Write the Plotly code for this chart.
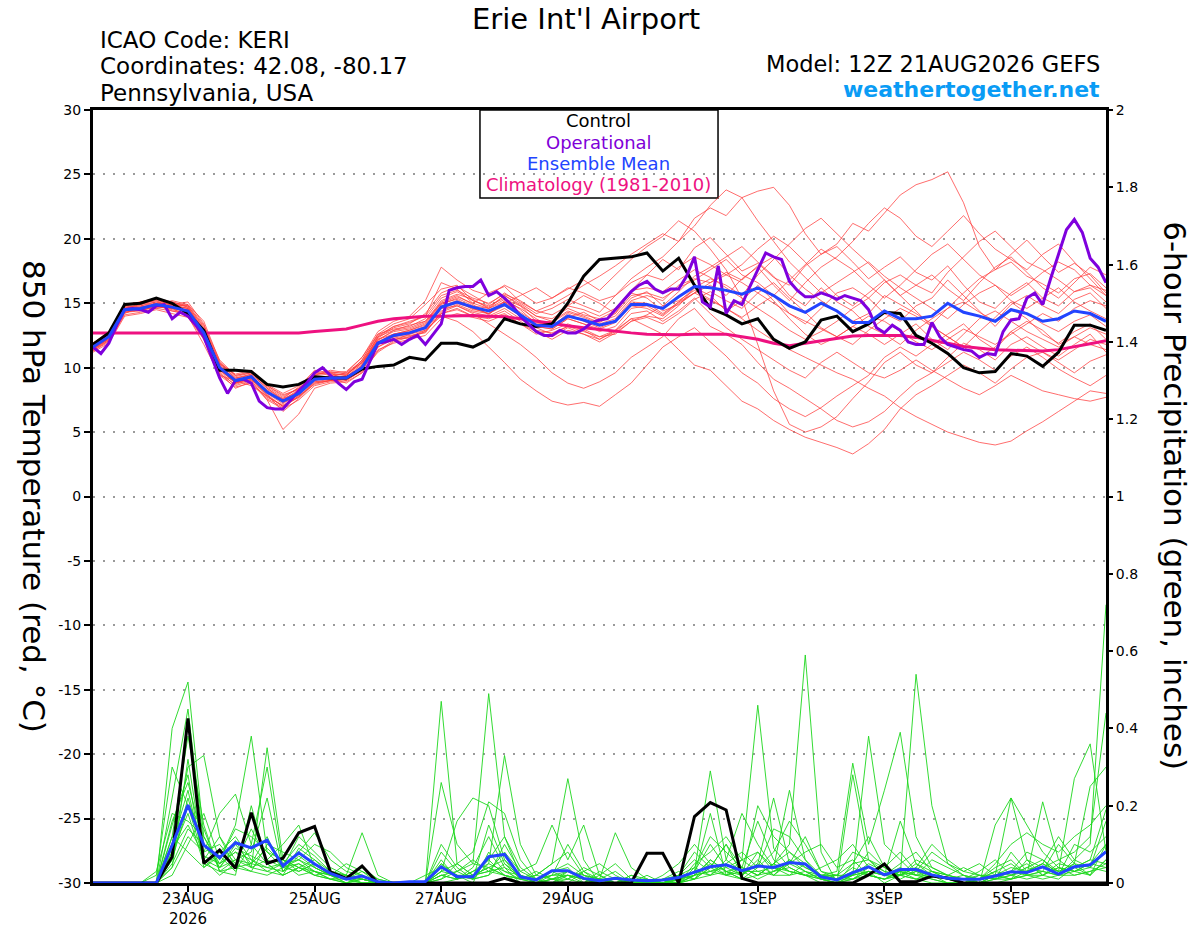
import pandas as pd
import plotly.graph_objects as go

# GEFS run start, 6-hourly ensemble output, 3-hourly operational
start = "2026-08-21 12:00"
times = pd.date_range(start, periods=65, freq="6h")
op_times = pd.date_range(start, periods=129, freq="3h")

tick_dates = ["2026-08-23", "2026-08-25", "2026-08-27", "2026-08-29",
              "2026-09-01", "2026-09-03", "2026-09-05"]
tick_labels = ["23AUG<br>2026", "25AUG", "27AUG", "29AUG", "1SEP", "3SEP", "5SEP"]
temp_ticks = [-30, -25, -20, -15, -10, -5, 0, 5, 10, 15, 20, 25, 30]

# 850 hPa temperature (C)
control_temp = [11.8, 12.7, 14.9, 15.0, 15.4, 15.0, 14.2, 12.9, 9.8, 9.8,
                9.7, 8.7, 8.5, 8.7, 9.3, 9.2, 9.2, 9.9, 10.1, 10.2,
                10.8, 10.6, 11.9, 11.9, 11.6, 12.2, 13.8, 13.4, 13.2, 13.4,
                15.0, 17.1, 18.4, 18.5, 18.6, 18.9, 17.5, 18.5, 16.4, 14.6,
                14.1, 13.4, 13.8, 12.2, 11.5, 12.0, 13.7, 14.0, 12.8, 13.4,
                14.3, 14.2, 12.5, 11.9, 11.1, 10.0, 9.6, 9.7, 11.1, 10.9,
                10.1, 11.2, 13.3, 13.3, 12.9]

operational_temp = [11.6, 11.1, 11.9, 13.3, 14.5, 14.6, 14.5, 14.3,
                    14.8, 14.9, 13.8, 14.3, 14.0, 13.3, 12.4, 10.8,
                    9.2, 8.0, 9.0, 9.1, 8.8, 7.4, 6.9, 6.8,
                    6.8, 7.5, 8.2, 8.8, 9.6, 10.0, 9.4, 8.8,
                    8.3, 8.9, 9.1, 10.5, 11.9, 12.0, 12.2, 11.8,
                    12.2, 12.5, 11.8, 12.6, 13.4, 16.0, 16.2, 16.3,
                    16.3, 16.8, 15.6, 15.9, 15.4, 14.8, 14.0, 13.4,
                    12.8, 12.5, 12.5, 12.9, 12.7, 12.7, 13.0, 13.5,
                    13.7, 13.8, 14.5, 15.2, 15.9, 16.4, 16.7, 16.1,
                    15.8, 16.1, 16.1, 17.1, 18.6, 15.1, 14.7, 17.9,
                    14.2, 15.2, 14.9, 16.3, 17.6, 18.9, 18.6, 18.4,
                    16.7, 16.0, 15.5, 15.5, 15.8, 15.6, 15.3, 15.6,
                    15.4, 15.2, 14.5, 13.1, 12.7, 13.3, 12.9, 12.0,
                    11.8, 11.8, 13.5, 12.4, 11.8, 11.6, 11.4, 11.3,
                    10.8, 11.1, 11.0, 12.8, 13.7, 13.8, 15.4, 15.8,
                    14.9, 16.9, 18.8, 20.7, 21.5, 20.5, 18.5, 17.8,
                    16.6]

mean_temp = [11.6, 12.4, 14.5, 14.6, 14.9, 14.7, 14.4, 12.7, 10.0, 9.0,
             9.3, 8.1, 7.4, 8.0, 9.1, 9.2, 9.2, 10.0, 11.9, 12.5,
             12.7, 13.1, 14.7, 15.1, 14.7, 14.4, 14.9, 14.1, 13.3, 13.2,
             14.0, 13.7, 13.3, 13.6, 14.9, 14.9, 14.6, 15.5, 16.3, 16.2,
             16.0, 15.7, 16.2, 15.6, 14.8, 14.3, 15.0, 14.4, 13.5, 13.5,
             14.4, 13.8, 13.8, 14.0, 15.0, 14.3, 14.0, 13.6, 14.5, 14.2,
             13.6, 13.8, 14.4, 14.2, 13.6]

clim_temp = [12.7, 12.7, 12.7, 12.7, 12.7, 12.7, 12.7, 12.7, 12.65, 12.65,
             12.65, 12.65, 12.65, 12.7, 12.8, 12.9, 13.0, 13.3, 13.6, 13.8,
             13.9, 14.0, 14.0, 14.05, 14.05, 14.0, 13.95, 13.8, 13.6, 13.4,
             13.25, 13.1, 12.95, 12.8, 12.7, 12.6, 12.55, 12.55, 12.6, 12.6,
             12.6, 12.4, 12.2, 11.9, 11.7, 11.9, 12.1, 12.3, 12.45, 12.5,
             12.5, 12.5, 12.35, 12.15, 11.9, 11.65, 11.5, 11.4, 11.35, 11.3,
             11.3, 11.4, 11.6, 11.85, 12.1]

t01 = [11.9, 12.8, 14.8, 15.0, 15.2, 14.6, 14.0, 11.8, 9.4, 9.0,
       8.6, 7.8, 7.0, 7.9, 9.4, 9.8, 9.6, 10.8, 12.6, 13.4,
       13.8, 14.9, 16.1, 16.4, 15.2, 14.7, 15.6, 14.9, 14.0, 13.6,
       14.8, 15.6, 15.0, 14.2, 16.0, 17.2, 18.4, 17.6, 19.3, 20.1,
       18.8, 17.5, 18.1, 17.0, 16.4, 17.9, 18.8, 19.6, 21.2, 20.6,
       22.0, 23.4, 24.2, 24.6, 25.2, 22.8, 19.4, 17.6, 18.2, 17.1,
       16.5, 15.8, 16.9, 17.3, 16.2]
t02 = [11.3, 12.0, 14.2, 14.7, 14.9, 15.2, 14.9, 13.6, 10.5, 9.3,
       9.6, 8.5, 7.7, 8.4, 9.3, 9.0, 9.4, 10.4, 12.0, 12.2,
       12.3, 12.8, 14.2, 14.6, 14.0, 13.8, 14.2, 13.4, 12.6, 12.9,
       13.4, 12.9, 12.2, 12.9, 13.8, 13.2, 12.6, 11.4, 10.2, 9.8,
       8.6, 7.4, 6.8, 5.9, 5.2, 4.6, 4.2, 3.8, 3.3, 4.1,
       5.2, 6.8, 7.9, 8.6, 9.4, 10.2, 9.6, 8.8, 9.9, 10.8,
       11.2, 10.4, 9.6, 10.5, 11.0]
t03 = [11.8, 12.6, 14.6, 14.9, 15.3, 14.8, 14.6, 12.9, 10.2, 8.8,
       9.4, 8.0, 7.6, 8.5, 9.8, 9.6, 9.0, 10.2, 12.4, 13.2,
       13.6, 14.0, 16.6, 16.1, 15.0, 15.8, 16.3, 15.1, 14.4, 14.9,
       15.6, 16.4, 17.1, 17.9, 18.8, 19.6, 20.4, 19.8, 21.6, 22.4,
       21.8, 23.2, 23.7, 24.0, 22.6, 20.4, 18.8, 19.4, 18.2, 16.9,
       17.8, 18.6, 17.4, 16.8, 17.9, 16.4, 15.1, 14.6, 15.8, 16.6,
       15.4, 14.8, 15.9, 16.2, 15.1]
t04 = [11.5, 12.2, 14.4, 14.5, 14.7, 14.9, 15.1, 13.4, 9.9, 8.8,
       9.2, 7.9, 6.6, 7.6, 8.8, 9.0, 9.1, 9.7, 11.2, 12.0,
       12.4, 12.9, 14.0, 13.6, 12.8, 11.6, 10.4, 9.1, 8.2, 7.4,
       7.1, 7.3, 7.0, 7.9, 8.8, 10.2, 11.6, 12.4, 13.1, 12.0,
       10.9, 9.6, 8.8, 7.6, 6.8, 6.2, 6.9, 7.8, 8.6, 9.4,
       10.8, 11.6, 10.9, 11.8, 12.6, 13.4, 12.2, 11.4, 12.8, 13.6,
       12.9, 11.8, 12.4, 13.1, 12.6]
t05 = [11.4, 12.3, 14.3, 14.4, 14.8, 14.5, 14.2, 12.4, 9.6, 8.4,
       8.9, 7.6, 6.9, 7.8, 8.7, 9.0, 9.3, 10.1, 12.2, 12.8,
       13.0, 13.5, 15.1, 15.6, 14.9, 14.1, 15.2, 14.6, 13.8, 13.1,
       13.9, 14.3, 13.6, 14.0, 15.4, 15.9, 14.8, 15.9, 17.1, 17.8,
       18.6, 19.4, 18.2, 17.1, 15.6, 14.8, 16.2, 15.1, 14.4, 13.2,
       12.6, 11.8, 12.9, 13.8, 14.6, 15.8, 16.9, 17.6, 18.8, 19.9,
       18.6, 17.4, 18.1, 17.2, 15.8]
t06 = [11.7, 12.5, 14.7, 14.8, 15.0, 14.9, 14.8, 13.1, 10.4, 9.2,
       9.5, 8.4, 7.6, 8.1, 9.0, 9.4, 9.0, 9.8, 11.6, 12.3,
       12.5, 12.7, 14.3, 14.8, 14.3, 14.0, 14.6, 13.8, 12.9, 12.7,
       13.2, 13.0, 12.4, 12.6, 13.6, 14.1, 14.8, 15.2, 16.0, 15.3,
       14.6, 13.8, 12.9, 12.1, 11.4, 10.8, 10.2, 9.6, 9.1, 8.4,
       7.8, 6.9, 6.2, 5.6, 5.0, 4.6, 4.2, 4.0, 4.3, 5.1,
       5.8, 6.6, 7.4, 8.2, 8.0]
t07 = [11.6, 12.4, 14.5, 14.6, 14.8, 14.6, 14.5, 12.6, 10.1, 9.1,
       9.0, 8.3, 7.5, 8.2, 9.4, 9.5, 9.4, 10.6, 12.6, 13.0,
       13.2, 13.8, 15.4, 15.9, 15.2, 14.8, 15.4, 14.5, 13.4, 13.5,
       14.3, 13.9, 13.4, 13.8, 15.2, 15.6, 15.2, 16.4, 16.9, 16.6,
       17.4, 16.8, 17.9, 18.6, 17.2, 16.1, 15.2, 14.4, 13.6, 14.2,
       15.6, 14.9, 14.2, 13.4, 14.6, 15.1, 14.3, 13.6, 14.9, 15.6,
       14.8, 14.2, 15.3, 15.8, 14.6]
t08 = [11.9, 12.7, 14.9, 15.1, 15.3, 15.1, 14.7, 12.9, 10.3, 9.5,
       9.8, 8.7, 8.0, 8.6, 9.6, 9.7, 9.5, 10.4, 12.1, 12.9,
       13.3, 13.6, 15.0, 15.3, 14.6, 14.2, 15.0, 15.6, 16.2, 15.4,
       16.1, 16.8, 16.0, 17.2, 18.4, 19.4, 20.2, 21.4, 20.6, 19.2,
       17.6, 15.4, 11.8, 8.2, 5.6, 5.0, 5.4, 6.2, 7.6, 8.9,
       10.4, 11.2, 10.2, 9.6, 10.8, 11.9, 11.4, 10.6, 11.8, 12.4,
       11.6, 10.9, 11.8, 12.6, 11.2]
t09 = [11.2, 11.9, 14.0, 14.2, 14.5, 14.2, 13.9, 12.2, 9.7, 8.6,
       9.0, 7.5, 5.2, 6.4, 8.4, 8.8, 8.9, 9.6, 11.4, 11.9,
       12.2, 12.5, 13.8, 14.2, 13.9, 13.6, 14.1, 13.4, 12.8, 12.2,
       12.9, 12.6, 12.0, 12.7, 13.6, 13.9, 13.4, 14.2, 15.3, 15.9,
       15.2, 14.6, 15.8, 16.6, 15.4, 14.3, 13.1, 12.4, 11.8, 12.9,
       13.8, 14.6, 14.0, 13.2, 12.4, 11.6, 12.8, 13.9, 15.1, 14.2,
       13.4, 12.8, 13.6, 14.1, 13.2]
t10 = [11.8, 12.6, 14.7, 14.9, 15.1, 14.7, 14.3, 12.5, 9.9, 8.9,
       9.4, 8.2, 7.3, 7.9, 9.2, 9.3, 9.6, 10.5, 12.3, 13.1,
       13.4, 14.2, 15.8, 16.3, 15.6, 14.9, 15.8, 15.0, 14.2, 14.6,
       15.3, 14.8, 14.3, 15.6, 16.9, 17.8, 18.6, 19.8, 21.0, 22.6,
       23.8, 23.2, 21.4, 19.8, 18.2, 17.0, 15.8, 16.6, 17.4, 18.2,
       17.1, 16.2, 15.4, 14.6, 13.8, 14.9, 15.8, 16.4, 15.2, 14.6,
       15.4, 16.2, 15.1, 14.4, 13.8]
t11 = [11.4, 12.1, 14.3, 14.5, 14.6, 14.8, 14.9, 13.3, 10.6, 9.4,
       9.7, 8.6, 7.9, 8.3, 9.1, 9.2, 8.8, 9.6, 11.3, 12.1,
       12.6, 13.1, 14.6, 14.8, 14.2, 13.4, 12.6, 11.8, 10.8, 9.6,
       8.8, 8.4, 8.9, 9.6, 10.8, 11.6, 12.4, 13.8, 14.6, 13.2,
       12.6, 11.8, 10.4, 9.1, 8.4, 7.6, 6.8, 5.9, 5.4, 5.8,
       6.6, 7.8, 8.9, 9.6, 10.4, 11.2, 10.6, 9.8, 10.9, 11.6,
       10.8, 9.9, 9.2, 8.6, 9.4]
t12 = [11.6, 12.5, 14.6, 14.7, 14.9, 14.4, 14.1, 12.3, 9.5, 8.7,
       9.1, 7.7, 7.1, 7.7, 8.9, 9.1, 9.2, 10.2, 12.0, 12.6,
       12.9, 13.3, 14.9, 15.4, 14.8, 14.6, 15.3, 14.8, 14.0, 13.8,
       14.6, 14.1, 13.8, 14.4, 15.8, 15.4, 14.4, 14.9, 15.8, 16.4,
       15.6, 16.9, 17.8, 16.4, 15.2, 16.6, 17.8, 18.6, 19.8, 21.2,
       22.4, 21.6, 20.2, 19.4, 20.6, 21.8, 20.4, 19.2, 18.4, 17.6,
       18.8, 19.6, 18.2, 16.9, 15.6]
t13 = [11.5, 12.3, 14.4, 14.6, 15.0, 14.8, 14.6, 12.8, 10.3, 9.2,
       9.4, 8.2, 7.4, 8.0, 9.2, 9.3, 9.3, 10.3, 12.2, 12.6,
       12.8, 13.2, 14.8, 15.2, 14.5, 14.4, 15.1, 14.2, 13.2, 13.0,
       13.8, 13.4, 13.0, 13.5, 14.8, 14.6, 14.0, 15.0, 15.8, 15.2,
       14.6, 13.9, 14.8, 15.6, 14.2, 13.4, 14.6, 15.8, 16.2, 15.4,
       14.2, 13.6, 14.8, 15.4, 16.8, 15.6, 14.4, 13.2, 14.6, 13.8,
       12.6, 11.9, 12.8, 13.4, 12.2]
t14 = [11.7, 12.4, 14.6, 14.8, 15.1, 14.9, 14.6, 12.7, 9.8, 8.9,
       9.3, 8.0, 7.2, 8.0, 9.1, 9.4, 9.5, 10.4, 12.4, 12.9,
       13.1, 13.6, 15.2, 15.7, 15.3, 14.6, 15.6, 14.8, 13.6, 13.2,
       14.2, 13.6, 13.1, 13.6, 15.1, 15.0, 14.2, 15.1, 16.2, 16.9,
       16.4, 15.6, 17.2, 18.4, 19.6, 20.8, 21.6, 20.4, 19.2, 18.1,
       16.8, 15.6, 16.4, 17.2, 16.1, 15.2, 16.6, 17.8, 18.6, 17.4,
       16.2, 15.4, 16.6, 17.8, 17.2]
t15 = [11.5, 12.2, 14.3, 14.5, 14.7, 14.6, 14.4, 12.6, 9.9, 8.8,
       9.1, 7.9, 7.0, 7.7, 8.8, 9.0, 9.1, 9.9, 11.8, 12.4,
       12.6, 12.9, 14.4, 14.9, 14.4, 14.2, 14.8, 14.0, 13.1, 12.6,
       13.2, 12.8, 12.4, 12.9, 14.2, 14.4, 13.6, 14.4, 15.4, 14.2,
       13.1, 12.2, 11.4, 10.6, 9.8, 9.2, 10.4, 11.2, 10.4, 9.6,
       9.2, 9.8, 10.6, 9.8, 9.1, 8.4, 7.9, 8.6, 9.4, 8.8,
       8.2, 7.9, 7.6, 7.4, 7.7]
t16 = [11.8, 12.6, 14.8, 15.0, 15.2, 15.0, 14.7, 13.0, 10.2, 9.1,
       9.5, 8.4, 7.5, 8.3, 9.5, 9.6, 9.4, 10.6, 12.5, 13.2,
       13.5, 14.0, 15.6, 16.0, 15.4, 15.0, 15.7, 15.2, 14.4, 14.1,
       14.8, 14.5, 14.0, 14.6, 16.0, 16.2, 15.9, 16.8, 17.6, 17.0,
       16.2, 15.4, 14.6, 13.8, 12.9, 12.2, 12.8, 13.6, 14.6, 15.4,
       16.6, 17.2, 16.4, 15.8, 17.4, 18.6, 19.8, 20.6, 19.4, 18.2,
       17.6, 16.8, 15.9, 16.4, 15.6]
t17 = [11.3, 12.1, 14.1, 14.3, 14.6, 14.4, 14.2, 12.2, 9.4, 8.5,
       8.8, 7.5, 6.8, 7.5, 8.6, 8.9, 9.0, 9.8, 11.6, 12.2,
       12.4, 12.8, 14.2, 14.5, 14.0, 13.9, 14.4, 13.6, 12.8, 12.4,
       13.1, 12.6, 12.2, 12.8, 13.8, 14.0, 13.8, 14.8, 16.2, 15.6,
       14.4, 15.2, 16.4, 15.2, 13.8, 12.6, 11.8, 12.4, 13.2, 12.6,
       11.8, 12.6, 13.4, 12.2, 11.4, 12.6, 13.8, 14.4, 13.6, 12.8,
       12.2, 11.6, 12.4, 11.8, 11.4]
t18 = [11.6, 12.4, 14.5, 14.7, 14.9, 14.7, 14.5, 12.7, 10.0, 9.0,
       9.2, 8.1, 7.3, 7.9, 9.0, 9.2, 9.2, 10.1, 12.0, 12.6,
       12.9, 13.4, 15.0, 15.5, 15.0, 14.6, 15.1, 14.3, 13.5, 13.6,
       14.4, 14.0, 13.5, 14.2, 15.6, 15.8, 15.4, 16.2, 16.8, 17.6,
       18.4, 17.2, 16.6, 15.6, 16.8, 18.0, 19.2, 18.4, 17.6, 16.4,
       15.4, 16.4, 17.6, 18.8, 19.6, 18.4, 17.2, 16.4, 15.6, 16.4,
       17.4, 18.2, 17.6, 16.4, 16.0]
t19 = [11.9, 12.7, 14.8, 15.1, 15.4, 15.1, 14.8, 13.2, 10.4, 9.4,
       9.6, 8.6, 7.8, 8.4, 9.5, 9.6, 9.7, 10.8, 12.8, 13.6,
       14.0, 15.2, 17.8, 16.8, 16.0, 15.6, 16.4, 15.8, 15.0, 15.4,
       16.2, 15.8, 15.2, 15.6, 16.6, 17.2, 16.8, 17.8, 18.6, 18.0,
       17.2, 16.6, 15.8, 15.0, 14.2, 13.6, 13.0, 12.4, 13.2, 14.0,
       13.6, 12.8, 12.0, 11.4, 12.2, 13.0, 12.4, 11.8, 12.6, 13.4,
       14.2, 13.6, 14.6, 15.2, 14.8]
t20 = [11.4, 12.2, 14.4, 14.6, 14.8, 14.6, 14.3, 12.5, 9.8, 8.8,
       9.2, 7.8, 7.0, 7.8, 8.9, 9.0, 9.1, 10.0, 11.8, 12.4,
       12.7, 13.0, 14.6, 15.0, 14.6, 14.2, 14.9, 14.2, 13.2, 13.0,
       13.8, 13.4, 12.8, 13.2, 14.6, 14.8, 14.1, 15.1, 15.8, 16.6,
       17.2, 18.0, 19.2, 20.2, 19.4, 18.2, 16.8, 15.6, 14.8, 15.8,
       16.8, 15.6, 14.4, 13.2, 12.4, 11.6, 10.8, 11.6, 12.8, 11.9,
       11.2, 10.6, 11.4, 12.2, 11.8]
temp_members = [t01, t02, t03, t04, t05, t06, t07, t08, t09, t10,
                t11, t12, t13, t14, t15, t16, t17, t18, t19, t20]

# 6-hour precipitation (inches)
control_precip = [0, 0, 0, 0, 0, 0.068, 0.426, 0.051, 0.085, 0.038,
                  0.182, 0.051, 0.064, 0.130, 0.146, 0.029, 0.012, 0.044, 0, 0,
                  0, 0, 0, 0, 0, 0, 0.012, 0, 0, 0,
                  0, 0, 0, 0, 0, 0.077, 0.077, 0, 0.172, 0.208,
                  0.189, 0.012, 0, 0, 0, 0, 0, 0, 0, 0.021,
                  0.049, 0.003, 0.003, 0.018, 0.013, 0, 0, 0, 0, 0,
                  0, 0, 0, 0, 0]
mean_precip = [0, 0, 0, 0, 0, 0.098, 0.202, 0.098, 0.066, 0.104,
               0.091, 0.111, 0.044, 0.078, 0.049, 0.025, 0.010, 0.018, 0.003, 0,
               0.003, 0.004, 0.042, 0.016, 0.016, 0.068, 0.074, 0.016, 0.008, 0.032,
               0.032, 0.012, 0.006, 0.012, 0.008, 0.006, 0.008, 0.014, 0.027, 0.042,
               0.047, 0.032, 0.044, 0.040, 0.053, 0.049, 0.016, 0.008, 0.027, 0.042,
               0.021, 0.035, 0.035, 0.021, 0.012, 0.010, 0.010, 0.018, 0.029, 0.027,
               0.042, 0.023, 0.042, 0.047, 0.081]

p01 = [0, 0, 0, 0, 0, 0.40, 0.52, 0.12, 0.05, 0.08, 0.06, 0.03, 0.02, 0.04, 0.02,
       0.01, 0, 0, 0, 0, 0, 0, 0.47, 0.05, 0.02, 0.04, 0.02, 0, 0, 0.01,
       0.02, 0, 0, 0, 0, 0, 0, 0, 0.02, 0.05, 0.03, 0.01, 0.02, 0.05, 0.10,
       0.59, 0.08, 0, 0.01, 0.03, 0, 0.02, 0.01, 0, 0, 0, 0, 0.02, 0.04, 0.03,
       0.05, 0.02, 0.06, 0.10, 0.72]
p02 = [0, 0, 0, 0, 0, 0.22, 0.45, 0.10, 0.06, 0.15, 0.38, 0.08, 0.04, 0.06, 0.03,
       0.02, 0.01, 0.02, 0, 0, 0, 0, 0.26, 0.10, 0.05, 0.49, 0.12, 0.02, 0, 0,
       0.03, 0.01, 0, 0, 0.01, 0, 0, 0, 0.05, 0.08, 0.12, 0.06, 0.46, 0.09, 0.04,
       0.02, 0, 0, 0.05, 0.12, 0.04, 0.02, 0.54, 0.20, 0.05, 0.02, 0, 0, 0.01, 0.03,
       0.04, 0.06, 0.08, 0.12, 0.44]
p03 = [0, 0, 0, 0, 0, 0.08, 0.30, 0.33, 0.12, 0.06, 0.04, 0.35, 0.06, 0.03, 0.05,
       0.02, 0, 0.01, 0, 0, 0, 0, 0.03, 0.16, 0.22, 0.20, 0.06, 0.01, 0.02, 0.05,
       0.27, 0.06, 0, 0, 0, 0, 0, 0.01, 0.03, 0.10, 0.04, 0.02, 0.05, 0.22, 0.05,
       0.03, 0.01, 0, 0.28, 0.06, 0.02, 0.16, 0.05, 0.02, 0, 0, 0, 0.15, 0.22, 0.06,
       0.02, 0.01, 0.04, 0.06, 0.19]
p04 = [0, 0, 0, 0, 0, 0.04, 0.12, 0.08, 0.18, 0.23, 0.10, 0.30, 0.04, 0.12, 0.08,
       0.04, 0.02, 0.13, 0.02, 0, 0, 0, 0.02, 0.01, 0.03, 0.05, 0.33, 0.10, 0.02, 0.01,
       0, 0, 0.01, 0.03, 0, 0.02, 0, 0, 0.03, 0.29, 0.06, 0.18, 0.10, 0.04, 0.24,
       0.06, 0.02, 0.01, 0.02, 0.38, 0.10, 0.06, 0.02, 0.03, 0.01, 0, 0.01, 0.03, 0.05, 0.02,
       0.21, 0.06, 0.03, 0.05, 0.10]
p05 = [0, 0, 0, 0, 0.02, 0.30, 0.20, 0.06, 0.04, 0.10, 0.05, 0.12, 0.03, 0.08, 0.13,
       0.06, 0.03, 0.02, 0, 0, 0, 0, 0.05, 0.02, 0.01, 0.02, 0.10, 0.03, 0.05, 0.15,
       0.06, 0.15, 0.02, 0, 0, 0, 0.01, 0.02, 0.08, 0.04, 0.10, 0.04, 0.02, 0.03, 0.06,
       0.04, 0.02, 0.03, 0.31, 0.10, 0.24, 0.39, 0.12, 0.04, 0.02, 0.01, 0, 0.02, 0.03, 0.08,
       0.06, 0.03, 0.27, 0.36, 0.08]
p06 = [0, 0, 0, 0, 0, 0.12, 0.38, 0.15, 0.03, 0.02, 0.20, 0.05, 0.02, 0.09, 0.06,
       0.03, 0.01, 0, 0, 0, 0, 0, 0.01, 0.05, 0.08, 0.21, 0.18, 0.06, 0.01, 0.03,
       0.05, 0.02, 0.01, 0.13, 0.04, 0.01, 0, 0, 0.02, 0.06, 0.03, 0.01, 0.04, 0.08, 0.16,
       0.10, 0.03, 0.02, 0.05, 0.06, 0.03, 0.02, 0.04, 0.10, 0.06, 0.03, 0.02, 0.02, 0.22, 0.15,
       0.08, 0.04, 0.02, 0.03, 0.05]
p07 = [0, 0, 0, 0, 0, 0.06, 0.22, 0.08, 0.10, 0.05, 0.14, 0.06, 0.10, 0.15, 0.04,
       0.02, 0.05, 0.03, 0.01, 0, 0, 0, 0, 0.01, 0.02, 0.04, 0.06, 0.02, 0, 0.02,
       0.10, 0.03, 0, 0, 0.02, 0, 0.02, 0.05, 0.10, 0.05, 0.02, 0.01, 0.20, 0.12, 0.08,
       0.05, 0.01, 0, 0.02, 0.08, 0.04, 0.08, 0.03, 0.01, 0, 0, 0.01, 0.05, 0.10, 0.13,
       0.10, 0.08, 0.12, 0.15, 0.20]
p08 = [0, 0, 0, 0, 0, 0.15, 0.28, 0.04, 0.08, 0.12, 0.06, 0.04, 0.05, 0.10, 0.07,
       0.03, 0.02, 0.01, 0, 0, 0, 0, 0.10, 0.04, 0.01, 0.15, 0.05, 0.01, 0, 0,
       0, 0.03, 0.05, 0.02, 0, 0, 0.01, 0, 0.04, 0.12, 0.08, 0.04, 0.16, 0.06, 0.03,
       0.02, 0.04, 0.06, 0.10, 0.04, 0.02, 0.05, 0.08, 0.03, 0.01, 0, 0, 0.01, 0.08, 0.03,
       0.05, 0.12, 0.06, 0.04, 0.16]
p09 = [0, 0, 0, 0, 0, 0.02, 0.10, 0.18, 0.06, 0.14, 0.12, 0.08, 0.06, 0.04, 0.03,
       0.02, 0.01, 0.04, 0.01, 0, 0, 0.02, 0.04, 0.02, 0, 0.08, 0.03, 0.01, 0.02, 0.05,
       0.08, 0.02, 0, 0, 0, 0.01, 0, 0.02, 0.06, 0.03, 0.05, 0.08, 0.04, 0.14, 0.12,
       0.06, 0.01, 0, 0.02, 0.05, 0.03, 0.02, 0.06, 0.04, 0.02, 0.01, 0.03, 0.06, 0.02, 0.04,
       0.03, 0.02, 0.10, 0.08, 0.12]
p10 = [0, 0, 0, 0, 0.03, 0.18, 0.16, 0.12, 0.04, 0.06, 0.08, 0.22, 0.03, 0.05, 0.02,
       0.01, 0, 0.02, 0, 0, 0, 0, 0.06, 0.01, 0.04, 0.12, 0.04, 0, 0, 0.03,
       0.04, 0, 0.02, 0.05, 0.01, 0, 0, 0.01, 0.02, 0.18, 0.02, 0.06, 0.08, 0.03, 0.05,
       0.12, 0.03, 0.01, 0.04, 0.02, 0.01, 0.03, 0.02, 0.06, 0.04, 0.02, 0.01, 0.04, 0.06, 0.02,
       0.03, 0.10, 0.05, 0.02, 0.06]
p11 = [0, 0, 0, 0, 0, 0.10, 0.24, 0.06, 0.12, 0.04, 0.03, 0.10, 0.08, 0.06, 0.10,
       0.08, 0.04, 0.02, 0, 0, 0, 0, 0.02, 0.03, 0.06, 0.03, 0.02, 0.01, 0.03, 0.01,
       0.02, 0.01, 0, 0.01, 0, 0, 0.01, 0.03, 0.01, 0.04, 0.10, 0.02, 0.06, 0.02, 0.05,
       0.08, 0.10, 0.04, 0.06, 0.02, 0.01, 0.02, 0.03, 0.08, 0.05, 0.03, 0.05, 0.02, 0.01, 0.06,
       0.04, 0.03, 0.05, 0.25, 0.30]
p12 = [0, 0, 0, 0, 0, 0.05, 0.14, 0.10, 0.05, 0.08, 0.04, 0.06, 0.04, 0.03, 0.05,
       0.02, 0.01, 0, 0, 0, 0, 0, 0.03, 0.05, 0.02, 0.06, 0.12, 0.04, 0.01, 0,
       0.01, 0.03, 0.01, 0, 0.02, 0.01, 0, 0, 0.01, 0.06, 0.03, 0.04, 0.02, 0.05, 0.08,
       0.04, 0.02, 0.02, 0.08, 0.06, 0.04, 0.02, 0.05, 0.03, 0.02, 0.04, 0.02, 0.01, 0.02, 0.04,
       0.06, 0.02, 0.03, 0.04, 0.08]
p13 = [0, 0, 0, 0, 0, 0.08, 0.18, 0.05, 0.03, 0.06, 0.05, 0.04, 0.03, 0.07, 0.04,
       0.02, 0, 0.01, 0, 0, 0, 0, 0.04, 0.02, 0.01, 0.02, 0.05, 0.02, 0, 0.01,
       0.03, 0.01, 0, 0, 0, 0, 0, 0.02, 0.04, 0.02, 0.06, 0.03, 0.01, 0.03, 0.04,
       0.02, 0.01, 0.01, 0.02, 0.03, 0.02, 0.04, 0.02, 0.01, 0, 0, 0.02, 0.01, 0.03, 0.05,
       0.02, 0.04, 0.03, 0.02, 0.10]
p14 = [0, 0, 0, 0, 0, 0.12, 0.08, 0.04, 0.07, 0.03, 0.10, 0.05, 0.06, 0.04, 0.02,
       0.03, 0.02, 0.01, 0, 0, 0, 0, 0.01, 0.03, 0.05, 0.04, 0.02, 0.01, 0.01, 0.03,
       0.01, 0.04, 0.02, 0, 0, 0, 0, 0.01, 0.02, 0.03, 0.04, 0.06, 0.03, 0.02, 0.02,
       0.03, 0.02, 0.01, 0.01, 0.04, 0.02, 0.01, 0.03, 0.02, 0.01, 0.02, 0.01, 0.03, 0.02, 0.01,
       0.02, 0.05, 0.04, 0.06, 0.05]
p15 = [0, 0, 0, 0, 0, 0.04, 0.32, 0.06, 0.02, 0.05, 0.03, 0.02, 0.04, 0.05, 0.03,
       0.01, 0.01, 0.02, 0, 0, 0, 0, 0.08, 0.03, 0.01, 0.05, 0.03, 0.02, 0, 0,
       0.02, 0.01, 0.01, 0.01, 0.01, 0, 0, 0, 0.01, 0.02, 0.05, 0.02, 0.08, 0.04, 0.03,
       0.02, 0.01, 0, 0.01, 0.02, 0.01, 0.03, 0.01, 0.02, 0.01, 0, 0, 0.02, 0.01, 0.02,
       0.01, 0.02, 0.02, 0.03, 0.04]
p16 = [0, 0, 0, 0, 0, 0.16, 0.26, 0.10, 0.04, 0.09, 0.07, 0.05, 0.02, 0.04, 0.06,
       0.02, 0.01, 0.03, 0, 0, 0, 0, 0.02, 0.01, 0.02, 0.03, 0.08, 0.03, 0.01, 0.02,
       0.02, 0.01, 0, 0, 0, 0.01, 0, 0, 0.02, 0.03, 0.02, 0.04, 0.02, 0.05, 0.03,
       0.02, 0.02, 0.01, 0.03, 0.02, 0.01, 0.02, 0.04, 0.02, 0.01, 0.01, 0, 0.01, 0.02, 0.03,
       0.05, 0.03, 0.04, 0.02, 0.06]
p17 = [0, 0, 0, 0, 0, 0.06, 0.20, 0.14, 0.03, 0.04, 0.05, 0.09, 0.05, 0.02, 0.03,
       0.01, 0.02, 0, 0, 0, 0, 0, 0.05, 0.01, 0.03, 0.06, 0.02, 0.01, 0, 0.01,
       0.01, 0, 0.03, 0.01, 0, 0, 0, 0.01, 0.03, 0.02, 0.03, 0.02, 0.05, 0.02, 0.06,
       0.03, 0.01, 0.02, 0.01, 0.03, 0.02, 0.02, 0.01, 0.03, 0.02, 0.01, 0.02, 0.01, 0.01, 0.02,
       0.03, 0.02, 0.05, 0.04, 0.03]
p18 = [0, 0, 0, 0, 0, 0.09, 0.15, 0.07, 0.05, 0.11, 0.04, 0.03, 0.05, 0.06, 0.04,
       0.02, 0.01, 0.01, 0, 0, 0, 0, 0.03, 0.02, 0.02, 0.03, 0.04, 0.02, 0.01, 0.02,
       0.03, 0.02, 0.01, 0, 0.01, 0, 0, 0.02, 0.01, 0.04, 0.02, 0.03, 0.03, 0.04, 0.02,
       0.05, 0.02, 0.02, 0.02, 0.03, 0.02, 0.03, 0.02, 0.02, 0.01, 0.01, 0.01, 0.02, 0.03, 0.02,
       0.02, 0.04, 0.03, 0.05, 0.04]
precip_members = [p01, p02, p03, p04, p05, p06, p07, p08, p09,
                  p10, p11, p12, p13, p14, p15, p16, p17, p18]

FONT = "DejaVu Sans"

fig = go.Figure()

for m in temp_members:
    fig.add_trace(go.Scatter(x=times, y=m, mode="lines",
                             line=dict(color="rgba(255,60,60,0.75)", width=1),
                             hoverinfo="skip"))

fig.add_trace(go.Scatter(x=times, y=clim_temp, mode="lines",
                         line=dict(color="#EE1180", width=3), name="Climatology"))

for m in precip_members:
    fig.add_trace(go.Scatter(x=times, y=m, mode="lines", yaxis="y2",
                             line=dict(color="rgba(30,215,30,0.9)", width=1),
                             hoverinfo="skip"))

fig.add_trace(go.Scatter(x=times, y=control_temp, mode="lines",
                         line=dict(color="black", width=3), name="Control"))
fig.add_trace(go.Scatter(x=times, y=control_precip, mode="lines", yaxis="y2",
                         line=dict(color="black", width=3), name="Control precip"))
fig.add_trace(go.Scatter(x=op_times, y=operational_temp, mode="lines",
                         line=dict(color="#7F00DD", width=3), name="Operational"))
fig.add_trace(go.Scatter(x=times, y=mean_temp, mode="lines",
                         line=dict(color="#2244FF", width=3), name="Ensemble Mean"))
fig.add_trace(go.Scatter(x=times, y=mean_precip, mode="lines", yaxis="y2",
                         line=dict(color="#2244FF", width=3), name="Mean precip"))

fig.update_layout(
    width=1200, height=927,
    margin=dict(l=93, r=94, t=110, b=44, autoexpand=False),
    paper_bgcolor="white", plot_bgcolor="white",
    showlegend=False,
    font=dict(family=FONT, color="black"),
    xaxis=dict(range=[times[0], times[-1]], tickvals=tick_dates, showticklabels=False,
               ticks="outside", ticklen=6, tickwidth=1.5, tickcolor="black",
               showline=True, linewidth=3, linecolor="black", mirror=True,
               showgrid=False, zeroline=False, automargin=False),
    yaxis=dict(range=[-30, 30], tickvals=temp_ticks, ticktext=[str(v) for v in temp_ticks],
               ticks="outside", ticklen=6, tickwidth=1.5, tickcolor="black",
               showline=True, linewidth=3, linecolor="black", mirror=True,
               showgrid=True, gridcolor="#9a9a9a", gridwidth=1.5, griddash="2px,8px",
               zeroline=False, automargin=False,
               tickfont=dict(size=14, family=FONT)),
    yaxis2=dict(range=[0, 2], dtick=0.2, tick0=0, overlaying="y", side="right",
                ticks="outside", ticklen=6, tickwidth=1.5, tickcolor="black",
                showline=False, showgrid=False, zeroline=False, automargin=False,
                tickfont=dict(size=14, family=FONT)),
)

# date labels under the axis (placed as text so the two-line label fits the page)
for d, label in zip(tick_dates, tick_labels):
    fig.add_annotation(text=label, x=d, xref="x", y=0, yref="paper", yshift=-5,
                       showarrow=False, xanchor="center", yanchor="top",
                       font=dict(size=15, family=FONT))

# legend box
fig.add_shape(type="rect", xref="paper", yref="paper", x0=0.382, x1=0.617, y0=0.886, y1=1.0,
              line=dict(color="black", width=1.5), fillcolor="white", layer="between")

legend_items = [("Control", "black", 0.9858), ("Operational", "#8000D8", 0.9586),
                ("Ensemble Mean", "#2244FF", 0.9314), ("Climatology (1981-2010)", "#EE1180", 0.903)]
for text, color, ypos in legend_items:
    fig.add_annotation(text=text, xref="paper", yref="paper", x=0.4995, y=ypos,
                       showarrow=False, xanchor="center", yanchor="middle",
                       font=dict(size=18, color=color, family=FONT))

fig.add_annotation(text="Erie Int'l Airport", xref="paper", yref="paper", x=0.4867, y=1.1423,
                   showarrow=False, xanchor="center", yanchor="top",
                   font=dict(size=29, family=FONT))
for text, ypos in [("ICAO Code: KERI", 1.0905), ("Coordinates: 42.08, -80.17", 1.0569),
                   ("Pennsylvania, USA", 1.022)]:
    fig.add_annotation(text=text, xref="paper", yref="paper", x=0.0049, y=ypos,
                       showarrow=False, xanchor="left", yanchor="middle",
                       font=dict(size=23, family=FONT))
fig.add_annotation(text="Model: 12Z 21AUG2026 GEFS", xref="paper", yref="paper", x=0.996, y=1.0595,
                   showarrow=False, xanchor="right", yanchor="middle",
                   font=dict(size=22.5, family=FONT))
fig.add_annotation(text="<b>weathertogether.net</b>", xref="paper", yref="paper", x=0.996, y=1.0259,
                   showarrow=False, xanchor="right", yanchor="middle",
                   font=dict(size=22, color="#0A9CF5", family=FONT))

fig.add_annotation(text="850 hPa Temperature (red, °C)", xref="paper", yref="paper",
                   x=-0.0582, y=0.5006, textangle=90, showarrow=False,
                   xanchor="center", yanchor="middle", font=dict(size=31, family=FONT))
fig.add_annotation(text="6-hour Precipitation (green, inches)", xref="paper", yref="paper",
                   x=1.068, y=0.5006, textangle=90, showarrow=False,
                   xanchor="center", yanchor="middle", font=dict(size=31, family=FONT))

# drop the page's default body margin so the figure sits at the window origin
fig.write_html("out.html", config={"displayModeBar": False},
               post_script="document.body.style.margin='0';")
